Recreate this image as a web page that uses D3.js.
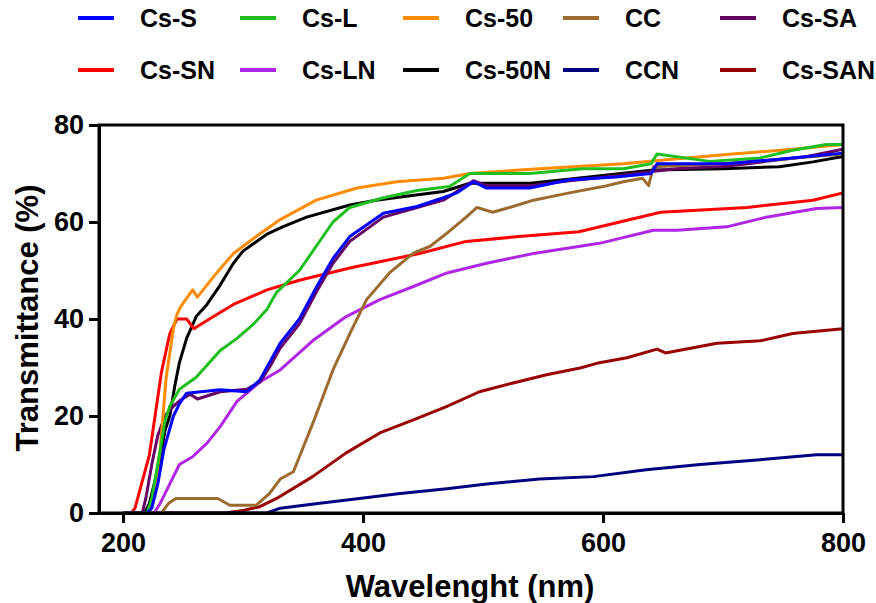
<!DOCTYPE html>
<html>
<head>
<meta charset="utf-8">
<script src="https://cdn.jsdelivr.net/npm/d3@7"></script>
<style>
  body { margin: 0; background: #fff; }
  text { font-family: "Liberation Sans", Arial, sans-serif; font-weight: bold; }
</style>
</head>
<body>
<svg id="chart" width="876" height="603"></svg>
<script>
// wavelength (nm), transmittance (%)
var csS = [[200,0],[220,0],[224,1],[229,6],[234,13],[242,20],[247,22.5],[253,24.7],[281,25.4],[303,25],[314,27.4],[322,31],[331,35],[347,40],[361,46.5],[375,52.5],[389,57],[417,61.8],[445,63.2],[467,65],[478,66],[492,68.3],[503,67],[539,67],[572,68.7],[611,69.3],[640,70],[645,72],[703,72],[758,73.2],[800,74.2]]
var csL = [[200,0],[220,0],[224,3],[231,13],[235,19],[239,22],[247,25.5],[261,28],[281,33.5],[295,36],[309,39],[320,42],[328,45.5],[347,50],[361,55],[375,60],[389,63],[417,65],[445,66.5],[472,67.3],[489,70],[539,70],[583,71],[617,71],[640,72],[645,74],[689,72.5],[731,73.2],[758,74.8],[786,76],[800,76]]
var cs50 = [[200,0],[222,0],[226,4],[231,13],[236,28],[242,38],[245,41],[248,42.5],[258,46],[262,44.5],[278,49.5],[292,53.5],[311,57],[331,60.5],[361,64.5],[395,67],[428,68.3],[467,69],[489,70],[547,71],[617,72],[660,73],[708,74],[758,75],[800,76]]
var cc = [[200,0],[232,0],[238,2],[244,3],[279,3],[289,1.6],[311,1.6],[322,4],[331,7],[342,8.5],[359,19],[375,29.5],[389,37],[403,44],[422,49.5],[442,53.6],[456,55],[470,57.7],[486,61],[495,63],[508,62],[525,63.2],[542,64.5],[572,66],[600,67.3],[617,68.3],[633,69],[638,67.5],[642,71.4],[700,72],[750,73],[800,74]]
var csSA = [[200,0],[216,0],[219,3],[224,10],[229,16],[235,20],[242,22],[248,23.3],[256,24.5],[262,23.5],[281,25],[303,25.5],[314,27],[322,30],[331,34],[347,39],[361,45.5],[375,51.5],[389,56],[417,61],[445,63],[467,64.5],[492,68.5],[503,67.5],[539,67.5],[572,68.5],[611,69.5],[660,71],[703,71.5],[736,72.5],[770,73.5],[800,75]]
var csSN = [[200,0],[207,0],[210,1],[222,12],[232,29],[239,37],[245,40],[253,40],[259,38],[272,40],[292,43],[320,46],[347,48],[389,50.5],[447,53.5],[486,56],[530,57],[580,58],[614,60],[648,62],[720,63],[775,64.5],[800,66]]
var csLN = [[200,0],[226,0],[231,2],[239,6],[247,10],[258,11.6],[270,14.4],[281,17.8],[295,23],[314,27],[331,29.5],[358,35.5],[386,40.5],[414,44],[442,46.7],[470,49.5],[503,51.5],[542,53.5],[581,55],[597,55.6],[642,58.3],[662,58.3],[703,59],[736,61],[778,62.8],[800,63]]
var cs50N = [[200,0],[218,0],[222,2],[230,10],[235,17],[239,20],[243,26],[247,31],[253,36],[261,40.5],[270,43],[281,47],[292,51.5],[300,54],[320,57.5],[333,59],[353,61],[389,63.5],[411,64.5],[436,65.3],[467,66.3],[489,68],[539,68],[567,68.7],[642,70.7],[700,71],[747,71.4],[775,72.4],[800,73.5]]
var ccN = [[200,0],[320,0],[331,1],[364,2],[397,3],[431,4],[470,5],[503,6],[547,7],[592,7.5],[636,8.9],[681,10],[731,11],[778,12],[800,12]]
var csSAN = [[200,0],[285,0],[300,0.5],[314,1.3],[328,3],[358,7.5],[386,12.4],[414,16.5],[442,19.2],[470,22],[497,25],[525,26.8],[553,28.5],[581,29.9],[597,31],[620,32],[645,33.8],[652,33],[695,35],[731,35.5],[758,37],[800,38]]

var names = ['Cs-S', 'Cs-L', 'Cs-50', 'CC', 'Cs-SA', 'Cs-SN', 'Cs-LN', 'Cs-50N', 'CCN', 'Cs-SAN']
var values = [csS, csL, cs50, cc, csSA, csSN, csLN, cs50N, ccN, csSAN]
var colors = ['#0000ff', '#1fbf1f', '#ff8c00', '#9c6b30', '#660066', '#ff0000', '#b026e6', '#000000', '#000080', '#990000']
var xTicks = [200, 400, 600, 800]
var yTicks = [0, 20, 40, 60, 80]

var svg = d3.select('#chart')

var x = d3.scaleLinear().domain([180, 800]).range([99, 843])
var y = d3.scaleLinear().domain([0, 80]).range([513, 125])

var line = d3.line()
  .x(function (d) { return x(d[0]) })
  .y(function (d) { return y(d[1]) })

// draw last series first so Cs-S ends up on top
var order = d3.range(values.length).reverse()
svg.append('g').selectAll('path')
  .data(order)
  .enter()
  .append('path')
  .attr('d', function (i) { return line(values[i]) })
  .attr('fill', 'none')
  .attr('stroke', function (i) { return colors[i] })
  .attr('stroke-width', 3)
  .attr('stroke-linejoin', 'round')

// frame
svg.append('rect')
  .attr('x', x(180)).attr('y', y(80))
  .attr('width', x(800) - x(180)).attr('height', y(0) - y(80))
  .attr('fill', 'none').attr('stroke', '#000').attr('stroke-width', 3)

var xAxis = svg.append('g')
  .attr('transform', 'translate(0,' + y(0) + ')')
  .call(d3.axisBottom(x).tickValues(xTicks).tickSize(10).tickPadding(10).tickSizeOuter(0))
var yAxis = svg.append('g')
  .attr('transform', 'translate(' + x(180) + ',0)')
  .call(d3.axisLeft(y).tickValues(yTicks).tickSize(10).tickPadding(5).tickSizeOuter(0))

;[xAxis, yAxis].forEach(function (g) {
  g.select('.domain').attr('stroke-width', 3)
  g.selectAll('.tick line').attr('stroke-width', 3)
  g.selectAll('.tick text').attr('font-size', 27).attr('font-family', '"Liberation Sans", Arial, sans-serif').attr('fill', '#000')
})

svg.append('text')
  .attr('x', 470).attr('y', 597)
  .attr('text-anchor', 'middle')
  .attr('font-size', 31)
  .text('Wavelenght (nm)')

svg.append('text')
  .attr('transform', 'translate(38,318) rotate(-90)')
  .attr('text-anchor', 'middle')
  .attr('font-size', 31)
  .text('Transmittance (%)')

// legend, 2 rows x 5 columns
var colX = [78, 240, 403, 563, 720]
var rowY = [18, 70]
var leg = svg.append('g').selectAll('g')
  .data(names)
  .enter()
  .append('g')
  .attr('transform', function (d, i) {
    return 'translate(' + colX[i % 5] + ',' + rowY[Math.floor(i / 5)] + ')'
  })
leg.append('line')
  .attr('x1', 0).attr('x2', 36)
  .attr('stroke', function (d, i) { return colors[i] })
  .attr('stroke-width', 4)
leg.append('text')
  .attr('x', 62).attr('dy', '0.36em')
  .attr('font-size', 25)
  .text(function (d) { return d })
</script>
</body>
</html>
